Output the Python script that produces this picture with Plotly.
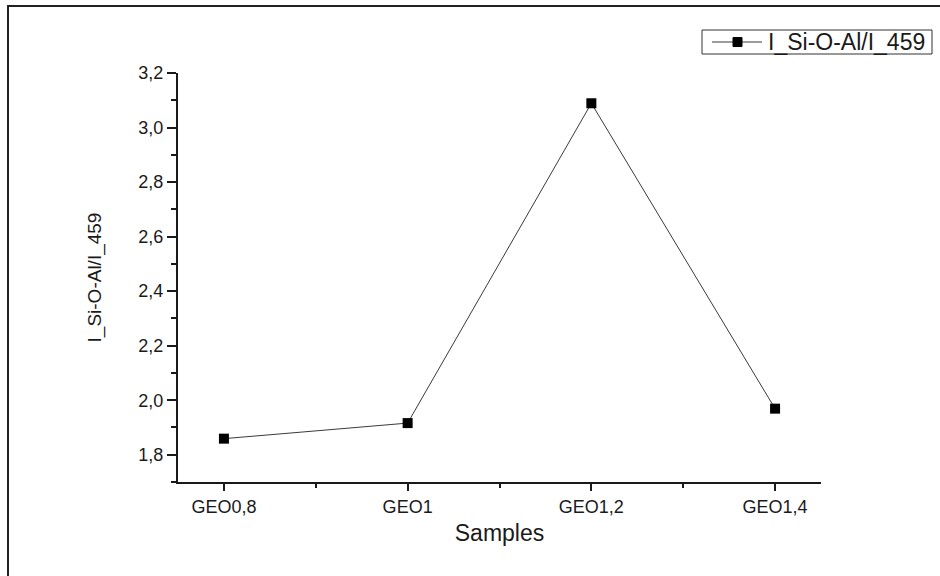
import plotly.graph_objects as go

samples = ["GEO0,8", "GEO1", "GEO1,2", "GEO1,4"]
ratio = [1.859, 1.916, 3.089, 1.969]
series_name = "I_Si-O-Al/I_459"
y_ticks = [1.8, 2.0, 2.2, 2.4, 2.6, 2.8, 3.0, 3.2]

W, H = 940, 576
L, R, T, B = 178, 119, 73, 94
pw, ph = W - L - R, H - T - B

def px(x):
    return (x - L) / pw

def py(y):
    return (H - B - y) / ph

xpos = list(range(len(samples)))

fig = go.Figure()
fig.add_trace(go.Scatter(
    x=xpos, y=ratio, mode="lines+markers", name=series_name,
    line=dict(color="#3a3a3a", width=1),
    marker=dict(symbol="square", size=10, color="black"),
    showlegend=False,
))

font = "Liberation Sans, Arial, sans-serif"
ink = "#1a1a1a"

# legend box (drawn manually to match the compact original legend)
leg_shapes = [
    dict(type="rect", xref="paper", yref="paper", x0=px(702), x1=px(932), y0=py(54), y1=py(30),
         line=dict(color="#333", width=1), fillcolor="white", layer="above"),
    dict(type="line", xref="paper", yref="paper", x0=px(712), x1=px(762), y0=py(42), y1=py(42),
         line=dict(color="#3a3a3a", width=1), layer="above"),
    dict(type="rect", xref="paper", yref="paper", x0=px(733), x1=px(742), y0=py(46.5), y1=py(37.5),
         line=dict(color="black", width=1), fillcolor="black", layer="above"),
]

fig.update_layout(
    width=W, height=H,
    margin=dict(l=L, r=R, t=T, b=B),
    paper_bgcolor="white", plot_bgcolor="white",
    separators=", ",
    font=dict(family=font, color=ink, size=18),
    showlegend=False,
    xaxis=dict(
        range=[-0.25, 3.25], tickmode="array", tickvals=xpos, ticktext=samples,
        showgrid=False, zeroline=False, showline=True, linecolor=ink, linewidth=2,
        ticks="outside", ticklen=7, tickwidth=2, tickcolor=ink,
        tickfont=dict(size=18),
        minor=dict(tickmode="array", tickvals=[0.5, 1.5, 2.5], ticks="outside",
                   ticklen=4, tickwidth=2, tickcolor=ink),
        title=dict(text="Samples", font=dict(size=23), standoff=9),
    ),
    yaxis=dict(
        range=[1.7, 3.2], tickmode="array", tickvals=y_ticks, tickformat=".1f",
        showgrid=False, zeroline=False, showline=True, linecolor=ink, linewidth=2,
        ticks="outside", ticklen=9, tickwidth=2, tickcolor=ink,
        tickfont=dict(size=18),
        minor=dict(dtick=0.1, tick0=1.7, ticks="outside", ticklen=5, tickwidth=2,
                   tickcolor=ink),
        title=dict(text="I_Si-O-Al/I_459", font=dict(size=19), standoff=32),
    ),
    shapes=[
        dict(type="line", xref="paper", yref="paper", x0=px(8), x1=px(941), y0=py(6), y1=py(6),
             line=dict(color="#222", width=2)),
        dict(type="line", xref="paper", yref="paper", x0=px(8), x1=px(8), y0=py(5), y1=py(577),
             line=dict(color="#222", width=2)),
    ] + leg_shapes,
    annotations=[
        dict(text=series_name, xref="paper", yref="paper", x=px(766), y=py(42),
             xanchor="left", yanchor="middle", showarrow=False,
             font=dict(size=23, color=ink)),
    ],
)

fig.write_html("out.html")
